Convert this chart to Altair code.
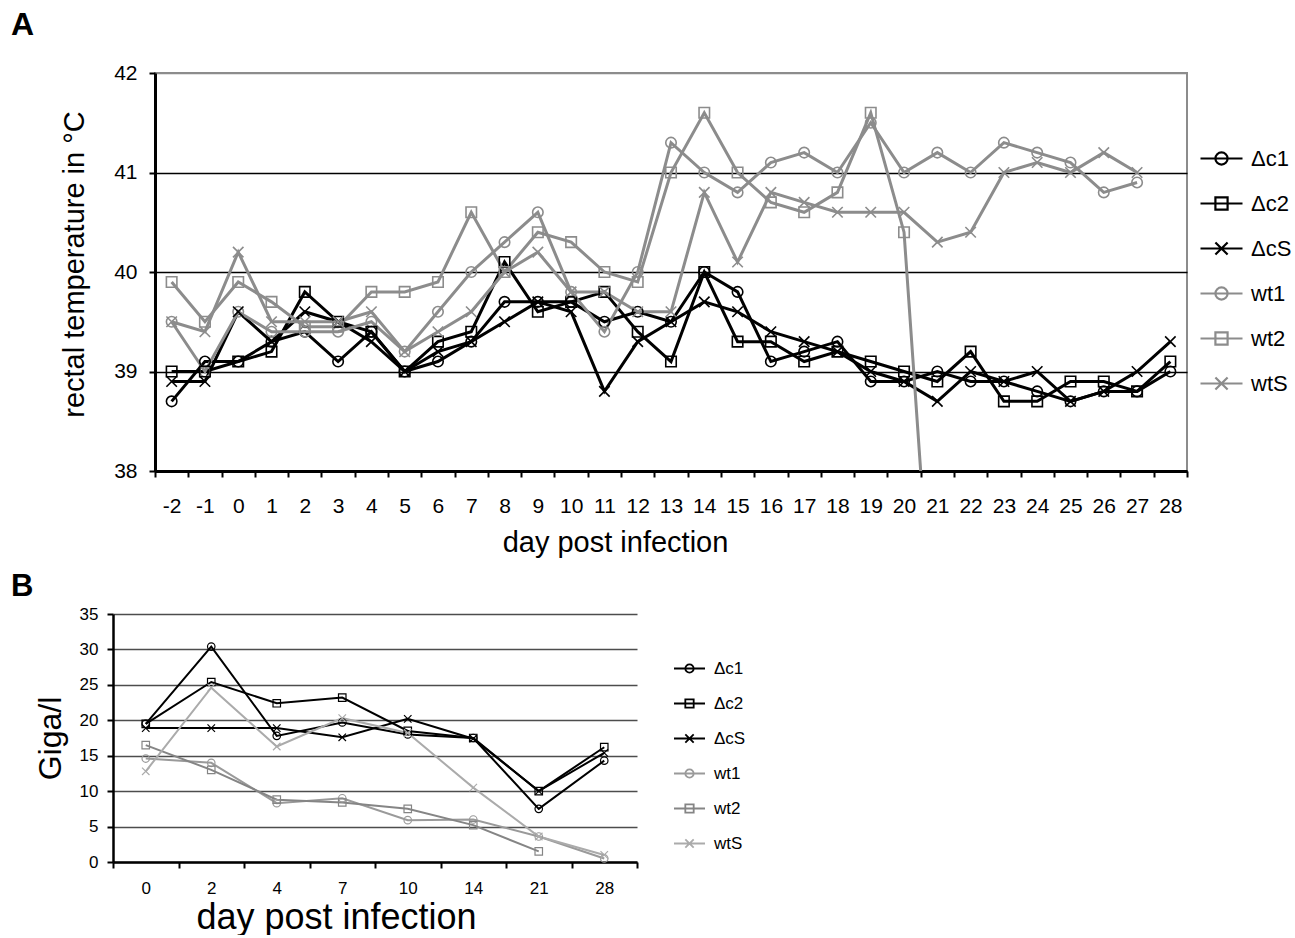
import altair as alt
import pandas as pd

series = ["Δc1", "Δc2", "ΔcS", "wt1", "wt2", "wtS"]
markers = ["circle", "square", "x", "circle", "square", "x"]

# Panel A: rectal temperature (°C)
days_a = list(range(-2, 29))
temp_c1 = [38.7, 39.1, 39.1, 39.3, 39.4, 39.1, 39.4, 39.0, 39.1, 39.3, 39.7, 39.7, 39.7, 39.5, 39.6, 39.5,
           40.0, 39.8, 39.1, 39.2, 39.3, 38.9, 38.9, 39.0, 38.9, 38.9, 38.8, 38.7, 38.8, 38.8, 39.0]
temp_c2 = [39.0, 39.0, 39.1, 39.2, 39.8, 39.5, 39.4, 39.0, 39.3, 39.4, 40.1, 39.6, 39.7, 39.8, 39.4, 39.1,
           40.0, 39.3, 39.3, 39.1, 39.2, 39.1, 39.0, 38.9, 39.2, 38.7, 38.7, 38.9, 38.9, 38.8, 39.1]
temp_cS = [38.9, 38.9, 39.6, 39.3, 39.6, 39.5, 39.3, 39.0, 39.2, 39.3, 39.5, 39.7, 39.6, 38.8, 39.3, 39.5,
           39.7, 39.6, 39.4, 39.3, 39.2, 39.0, 38.9, 38.7, 39.0, 38.9, 39.0, 38.7, 38.8, 39.0, 39.3]
temp_wt1 = [39.5, 39.0, 39.6, 39.4, 39.4, 39.4, 39.5, 39.2, 39.6, 40.0, 40.3, 40.6, 39.8, 39.4, 40.0, 41.3,
            41.0, 40.8, 41.1, 41.2, 41.0, 41.5, 41.0, 41.2, 41.0, 41.3, 41.2, 41.1, 40.8, 40.9]
temp_wt2 = [39.9, 39.5, 39.9, 39.7, 39.45, 39.45, 39.8, 39.8, 39.9, 40.6, 40.0, 40.4, 40.3, 40.0, 39.9, 41.0,
            41.6, 41.0, 40.7, 40.6, 40.8, 41.6, 40.4, 35.6]
temp_wtS = [39.5, 39.4, 40.2, 39.5, 39.5, 39.5, 39.6, 39.2, 39.4, 39.6, 40.0, 40.2, 39.8, 39.8, 39.6, 39.6,
            40.8, 40.1, 40.8, 40.7, 40.6, 40.6, 40.6, 40.3, 40.4, 41.0, 41.1, 41.0, 41.2, 41.0]

# Panel B: Giga/l
days_b = [0, 2, 4, 7, 10, 14, 21, 28]
giga_c1 = [19.5, 30.4, 17.8, 19.7, 18.0, 17.5, 7.5, 14.3]
giga_c2 = [19.5, 25.4, 22.4, 23.2, 18.5, 17.5, 10.0, 16.2]
giga_cS = [18.9, 18.9, 18.9, 17.6, 20.2, 17.4, 10.0, 15.4]
giga_wt1 = [14.6, 14.0, 8.3, 9.0, 5.9, 6.0, 3.6, 0.5]
giga_wt2 = [16.5, 13.0, 8.8, 8.4, 7.5, 5.2, 1.5]
giga_wtS = [12.8, 24.6, 16.3, 20.3, 18.2, 10.5, 3.6, 1.0]


def long_table(days, arrays):
    rows = []
    for name, mk, vals in zip(series, markers, arrays):
        for d, v in zip(days, vals):
            rows.append({"day": d, "series": name, "marker": mk, "value": v})
    return pd.DataFrame(rows)


df_a = long_table(days_a, [temp_c1, temp_c2, temp_cS, temp_wt1, temp_wt2, temp_wtS])
df_b = long_table(days_b, [giga_c1, giga_c2, giga_cS, giga_wt1, giga_wt2, giga_wtS])

X_PATH = "M-1,-1L1,1M1,-1L-1,1"
point_shapes = {"circle": "circle", "square": "square", "x": X_PATH}


def legend_paths(r):
    return [
        f"M-1,0H1M-{r},0A{r},{r},0,1,0,{r},0A{r},{r},0,1,0,-{r},0",
        f"M-1,0H1M-{r},-{r}H{r}V{r}H-{r}Z",
        f"M-1,0H1M-{r},-{r}L{r},{r}M{r},-{r}L-{r},{r}",
    ] * 2


FONT = "Liberation Sans"


def panel(df, colors, xscale, xaxis, yaxis, ydomain, lw, msize, msw, legend, leg_r, width, height,
          title, view, clip):
    base = alt.Chart(df)
    x = alt.X("day:O", scale=xscale, axis=xaxis)
    y = alt.Y("value:Q", scale=alt.Scale(domain=ydomain, nice=False, zero=False), axis=yaxis)
    color = alt.Color("series:N", scale=alt.Scale(domain=series, range=colors), legend=legend)
    shape = alt.Shape("series:N", scale=alt.Scale(domain=series, range=legend_paths(leg_r)), legend=legend)
    # invisible layer that carries the legend (line + marker symbols)
    leg = base.mark_point(filled=False, opacity=0, clip=clip).encode(x=x, y=y, color=color, shape=shape)
    lines = base.mark_line(strokeWidth=lw, clip=clip).encode(x=x, y=y, color=color)
    pts = []
    for mk, shp in point_shapes.items():
        pts.append(
            base.transform_filter(alt.datum.marker == mk)
            .mark_point(shape=shp, filled=False, size=msize, strokeWidth=msw, opacity=1, clip=clip)
            .encode(x=x, y=y, color=color)
        )
    ch = alt.layer(leg, lines, *pts).properties(width=width, height=height, title=title)
    if view is not None:
        ch = ch.properties(view=view)
    return ch


# ---------- Panel A ----------
gray_a = "#8c8c8c"
axis_xa = alt.Axis(
    tickBand="extent", labelAngle=0, labelFont=FONT, labelFontSize=21, labelColor="black", labelPadding=18,
    tickSize=6, tickWidth=2, tickColor="black", domainColor="black", domainWidth=3, grid=False,
    title="day post infection", titleFont=FONT, titleFontSize=29, titleFontWeight="normal",
    titleColor="black", titlePadding=12, titleX=460,
)
axis_ya = alt.Axis(
    values=[38, 39, 40, 41, 42], labelFont=FONT, labelFontSize=21, labelColor="black", labelPadding=12,
    tickSize=6, tickWidth=2, tickColor="black", domainColor="black", domainWidth=3,
    grid=True, gridColor={"condition": {"test": "datum.value === 42", "value": gray_a}, "value": "black"},
    gridWidth=1.5,
    title="rectal temperature in °C", titleFont=FONT, titleFontSize=29, titleFontWeight="normal",
    titleColor="black", titlePadding=24, titleY=191,
)
legend_a = alt.Legend(
    orient="none", legendX=1044, legendY=63, direction="vertical", title=None, padding=0,
    labelFont=FONT, labelFontSize=22, labelColor="black", labelOffset=7,
    symbolSize=1764, symbolStrokeWidth=2.2, symbolOpacity=1, rowPadding=11,
)
chart_a = panel(
    df_a, ["black", "black", "black", gray_a, gray_a, gray_a],
    alt.Scale(type="band", paddingInner=0, paddingOuter=0),
    axis_xa, axis_ya, [38, 42],
    3, 110, 1.6, legend_a, 0.29, 1032, 398,
    alt.TitleParams("A", anchor="start", frame="group", dx=-144, offset=20,
                    font=FONT, fontSize=32, fontWeight="bold", color="black"),
    alt.ViewBackground(stroke=gray_a, strokeWidth=2),
    True,
)

# ---------- Panel B ----------
# panel B sits 42 px further left than panel A: its x range starts left of the shared origin
axis_xb = alt.Axis(
    tickBand="extent", labelAngle=0, labelFont=FONT, labelFontSize=17, labelColor="black", labelPadding=12,
    tickSize=6, tickWidth=2, tickColor="black", domainColor="black", domainWidth=2.5, grid=False,
    title="day post infection", titleFont=FONT, titleFontSize=36, titleFontWeight="normal",
    titleColor="black", titlePadding=4, titleX=181,
)
axis_yb = alt.Axis(
    values=[0, 5, 10, 15, 20, 25, 30, 35], labelFont=FONT, labelFontSize=17, labelColor="black", labelPadding=9,
    tickSize=6, tickWidth=2, tickColor="black", domainColor="black", domainWidth=2.5, offset=42,
    grid=True, gridColor="#4d4d4d", gridWidth=1.5,
    title="Giga/l", titleFont=FONT, titleFontSize=32, titleFontWeight="normal",
    titleColor="black", titlePadding=12,
)
legend_b = alt.Legend(
    orient="none", legendX=518, legendY=38, direction="vertical", title=None, padding=0,
    labelFont=FONT, labelFontSize=17, labelColor="black", labelOffset=8,
    symbolSize=961, symbolStrokeWidth=1.8, symbolOpacity=1, rowPadding=10,
)
chart_b = panel(
    df_b, ["black", "black", "black", "#9a9a9a", "#858585", "#ababab"],
    alt.Scale(type="band", paddingInner=0, paddingOuter=0, range=[-42, 482]),
    axis_xb, axis_yb, [0, 35],
    2, 56, 1.2, legend_b, 0.27, 482, 248,
    alt.TitleParams("B", anchor="start", frame="group", dx=-144, offset=2,
                    font=FONT, fontSize=31, fontWeight="bold", color="black"),
    None,
    False,
)

chart = (
    alt.vconcat(chart_a, chart_b, spacing=13)
    .resolve_scale(color="independent", shape="independent")
    .resolve_legend(color="independent", shape="independent")
    .properties(padding={"left": 10, "top": 8, "right": 0, "bottom": 0})
    .configure_view(stroke=None)
)

chart.save("out.html", embed_options={"renderer": "svg", "actions": False})
